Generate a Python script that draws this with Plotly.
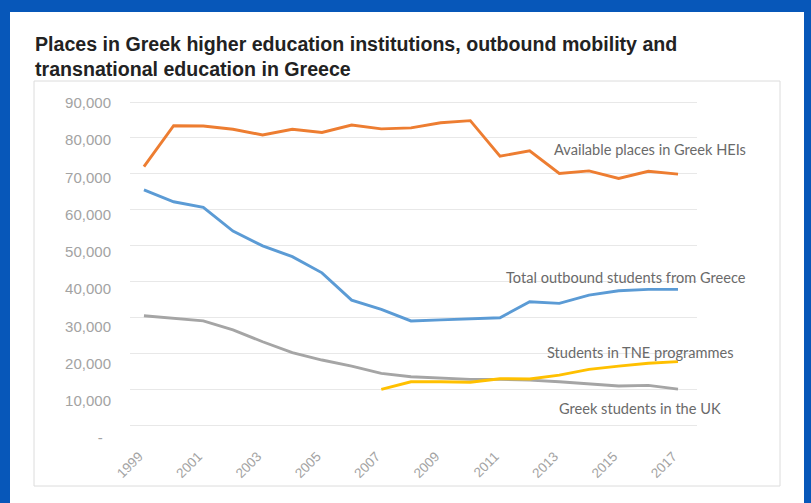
import plotly.graph_objects as go

years = list(range(1999, 2018))
available_places = [72000, 83400, 83300, 82400, 80800, 82400, 81500, 83600, 82500, 82800,
                    84200, 84800, 74900, 76400, 70100, 70800, 68700, 70700, 69900]
total_outbound = [65500, 62200, 60650, 54050, 49900, 46900, 42400, 34800, 32200, 29000,
                  29300, 29700, 29900, 34350, 33900, 36200, 37400, 37800, 37800]
uk_students = [30450, 29700, 29000, 26500, 23200, 20150, 18100, 16400, 14400, 13450,
               13000, 12700, 12700, 12500, 12050, 11400, 10850, 11050, 10000]
tne_years = list(range(2007, 2018))
tne_students = [9950, 12050, 12050, 11900, 12900, 12800, 13900, 15500, 16400, 17200, 17650]

xtick_years = list(range(1999, 2018, 2))
ytick_vals = list(range(0, 90001, 10000))
ytick_text = ["-\u2007"] + [f"{v:,}" for v in ytick_vals[1:]]

series_labels = ["Available places in Greek HEIs", "Total outbound students from Greece",
                 "Students in TNE programmes", "Greek students in the UK"]
title_text = ("<b>Places in Greek higher education institutions, outbound mobility and<br>"
              "transnational education in Greece</b>")

W, H = 811, 503
L, R, T, B = 130, 697, 95, 445


def px(x):
    return (x - L) / (R - L)


def py(y):
    return (B - y) / (B - T)


fig = go.Figure()
lw = 2.9
fig.add_trace(go.Scatter(x=years, y=available_places, mode="lines",
                         line=dict(color="#ED7D31", width=lw), name=series_labels[0]))
fig.add_trace(go.Scatter(x=years, y=total_outbound, mode="lines",
                         line=dict(color="#5B9BD5", width=lw), name=series_labels[1]))
fig.add_trace(go.Scatter(x=years, y=uk_students, mode="lines",
                         line=dict(color="#A5A5A5", width=lw), name=series_labels[3]))
fig.add_trace(go.Scatter(x=tne_years, y=tne_students, mode="lines",
                         line=dict(color="#FFC000", width=lw), name=series_labels[2]))
# dummy trace so the label axis is drawn
fig.add_trace(go.Scatter(x=[None], y=[None], yaxis="y2", showlegend=False, hoverinfo="skip"))

ytick_font = dict(family="Liberation Sans, Arial, sans-serif", size=15, color="#a3a3a3")
xtick_font = dict(family="Liberation Sans, Arial, sans-serif", size=13.5, color="#a3a3a3")

shapes = [
    dict(type="rect", xref="paper", yref="paper", x0=px(10), x1=px(804), y0=py(12), y1=py(503),
         fillcolor="white", line=dict(width=0), layer="below"),
    dict(type="rect", xref="paper", yref="paper", x0=px(34), x1=px(780), y0=py(81), y1=py(486),
         fillcolor="white", line=dict(color="#dcdcdc", width=1), layer="below"),
]

ann_font = dict(family="Lato, Liberation Sans, sans-serif", size=14.6, color="#6a6a6a")
annotations = [
    dict(text=series_labels[0], x=px(748), y=py(149)),
    dict(text=series_labels[1], x=px(748), y=py(277)),
    dict(text=series_labels[2], x=px(736), y=py(352)),
    dict(text=series_labels[3], x=px(723), y=py(408)),
]
annotations = [dict(a, xref="paper", yref="paper", xanchor="right", yanchor="middle",
                    showarrow=False, font=ann_font) for a in annotations]

fig.update_layout(
    width=W, height=H,
    margin=dict(l=L, r=W - R, t=T, b=H - B, pad=0),
    paper_bgcolor="#0757b9",
    plot_bgcolor="rgba(0,0,0,0)",
    showlegend=False,
    shapes=shapes,
    annotations=annotations,
    title=dict(text=title_text, x=35 / W, xref="container", xanchor="left",
               y=1 - 51 / H, yref="container", yanchor="top",
               font=dict(family="Liberation Sans, Arial, sans-serif", size=19.6, color="#222222")),
    xaxis=dict(range=[1998.53, 2017.64], tickmode="array", tickvals=xtick_years,
               ticktext=[str(y) for y in xtick_years], tickangle=-45,
               showgrid=False, zeroline=False, showline=False, ticks="",
               tickfont=xtick_font, ticklabelshift=-5),
    yaxis=dict(range=[-5573, 91950], tickvals=ytick_vals, showticklabels=False,
               showgrid=True, gridcolor="#e8e8e8", gridwidth=1, zeroline=False,
               showline=False, ticks=""),
    yaxis2=dict(range=[-1881, 92149], overlaying="y", side="left", tickmode="array",
                tickvals=ytick_vals, ticktext=ytick_text, showgrid=False, zeroline=False,
                showline=False, ticks="", tickfont=ytick_font, ticklabelstandoff=18),
)

fig.write_html("out.html", config={"displayModeBar": False},
               post_script="document.body.style.margin='0';document.body.style.overflow='hidden';")
